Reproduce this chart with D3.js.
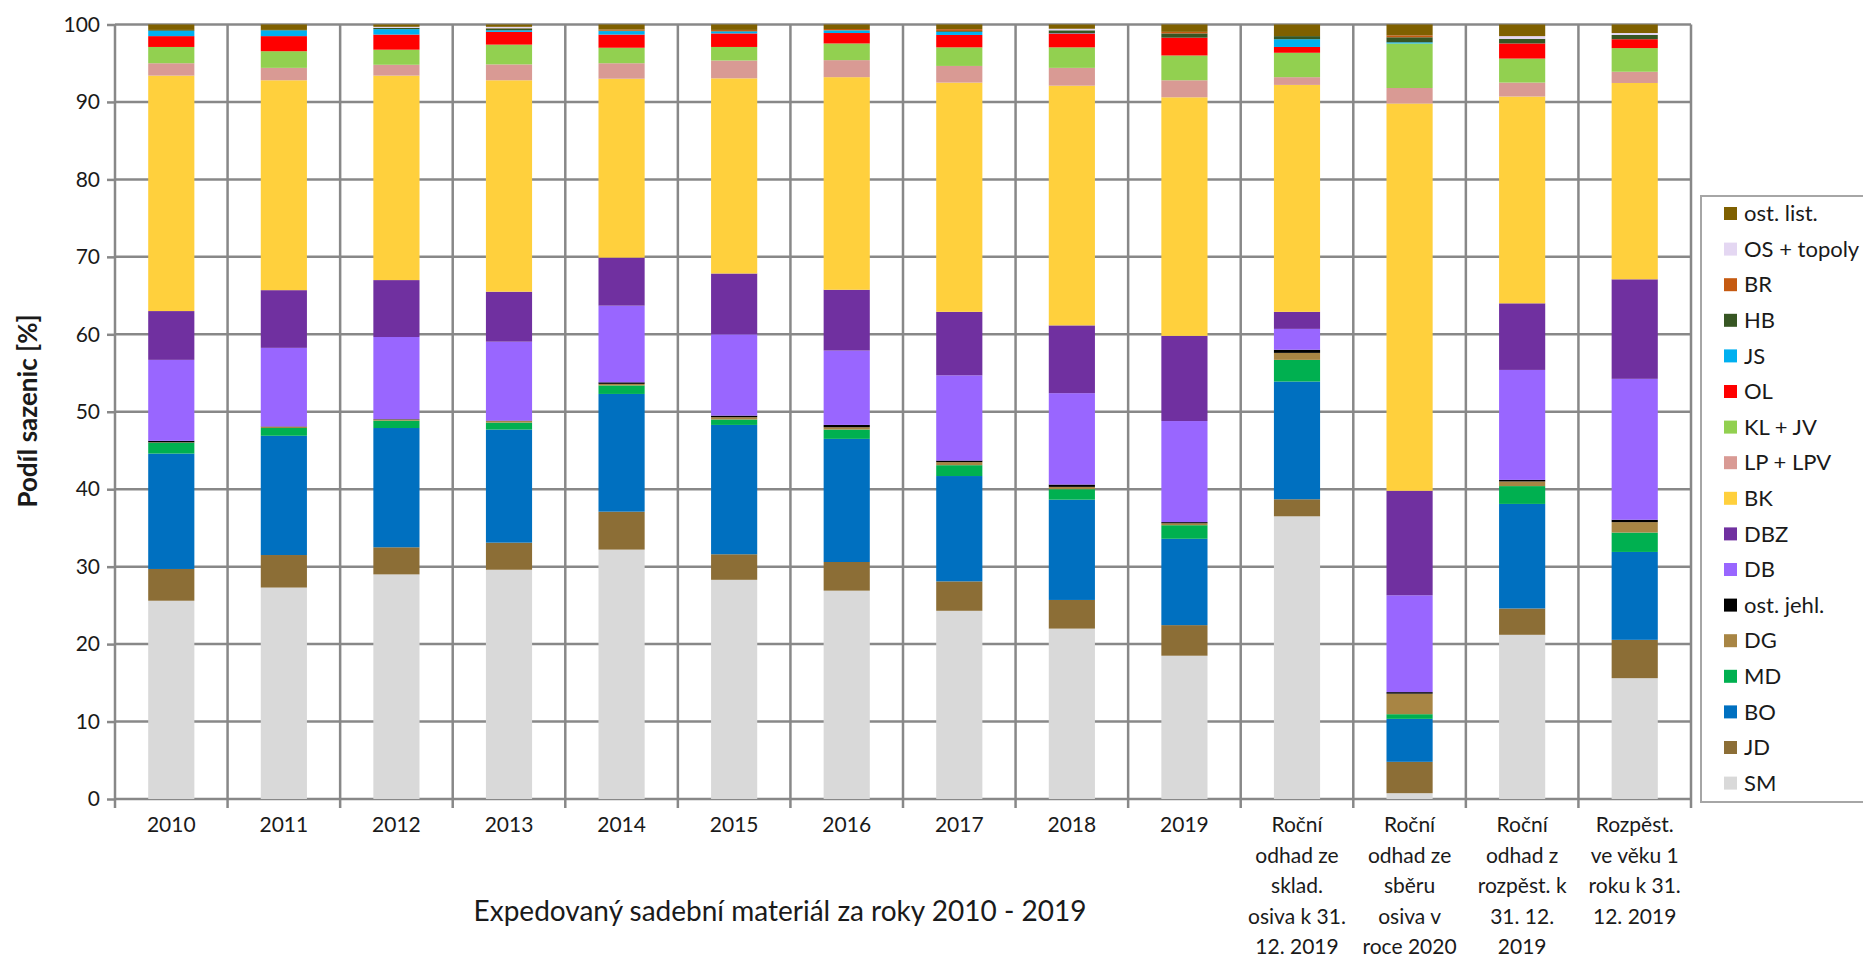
<!DOCTYPE html>
<html lang="cs">
<head>
<meta charset="utf-8">
<script src="https://cdn.jsdelivr.net/npm/d3@7"></script>
<style>
  html, body { margin: 0; padding: 0; background: #fff; }
  svg { display: block; font-family: Lato, "Open Sans", sans-serif; }
</style>
</head>
<body>
<svg id="chart" width="1863" height="961"></svg>
<script>
// Categories (multi-line axis labels)
const categories = [
  ["2010"], ["2011"], ["2012"], ["2013"], ["2014"], ["2015"], ["2016"],
  ["2017"], ["2018"], ["2019"],
  ["Roční", "odhad ze", "sklad.", "osiva k 31.", "12. 2019"],
  ["Roční", "odhad ze", "sběru", "osiva v", "roce 2020"],
  ["Roční", "odhad z", "rozpěst. k", "31. 12.", "2019"],
  ["Rozpěst.", "ve věku 1", "roku k 31.", "12. 2019"]
];

// Share of seedlings by tree species [%], bottom to top of each stack
const SM      = [25.6, 27.3, 29.0, 29.6, 32.2, 28.3, 26.9, 24.3, 22.0, 18.5, 36.5, 0.75, 21.2, 15.6];
const JD      = [4.1, 4.2, 3.5, 3.5, 4.9, 3.3, 3.7, 3.8, 3.7, 3.95, 2.2, 4.05, 3.4, 4.95];
const BO      = [14.9, 15.4, 15.4, 14.6, 15.2, 16.7, 15.9, 13.6, 12.95, 11.15, 15.2, 5.55, 13.5, 11.35];
const MD      = [1.4, 1.0, 0.95, 0.9, 1.1, 0.7, 1.2, 1.4, 1.35, 1.75, 2.8, 0.6, 2.3, 2.5];
const DG      = [0.05, 0.15, 0.15, 0.2, 0.2, 0.3, 0.3, 0.4, 0.3, 0.25, 0.9, 2.65, 0.6, 1.35];
const ostJehl = [0.2, 0.05, 0.05, 0.05, 0.2, 0.2, 0.3, 0.2, 0.3, 0.15, 0.4, 0.2, 0.2, 0.3];
const DB      = [10.45, 10.15, 10.6, 10.2, 9.9, 10.5, 9.6, 11.0, 11.8, 13.05, 2.7, 12.5, 14.2, 18.2];
const DBZ     = [6.3, 7.45, 7.35, 6.45, 6.2, 7.85, 7.85, 8.2, 8.75, 11.0, 2.2, 13.5, 8.6, 12.85];
const BK      = [30.4, 27.1, 26.4, 27.3, 23.1, 25.2, 27.45, 29.6, 30.95, 30.8, 29.3, 50.0, 26.7, 25.35];
const LP      = [1.6, 1.6, 1.4, 2.05, 2.0, 2.3, 2.2, 2.15, 2.3, 2.2, 1.0, 2.0, 1.8, 1.45];
const KL      = [2.1, 2.15, 1.95, 2.55, 2.0, 1.75, 2.15, 2.4, 2.65, 3.2, 3.15, 5.75, 3.1, 3.05];
const OL      = [1.4, 1.95, 1.95, 1.65, 1.7, 1.75, 1.35, 1.6, 1.8, 2.3, 0.75, 0, 1.95, 1.15];
const JS      = [0.7, 0.75, 0.7, 0.2, 0.45, 0.25, 0.35, 0.4, 0.05, 0, 1.0, 0.15, 0, 0];
const HB      = [0.1, 0.05, 0.17, 0.25, 0.05, 0.05, 0, 0.1, 0.35, 0.55, 0.4, 0.65, 0.6, 0.55];
const BR      = [0, 0, 0, 0.03, 0.15, 0.15, 0.17, 0.25, 0, 0.2, 0, 0.25, 0, 0];
const OS      = [0, 0, 0.13, 0.17, 0, 0, 0, 0, 0.2, 0, 0, 0, 0.35, 0.25];
const ostList = [0.7, 0.7, 0.3, 0.3, 0.65, 0.7, 0.58, 0.6, 0.55, 0.95, 1.5, 1.4, 1.5, 1.1];

const yTicks = [0, 10, 20, 30, 40, 50, 60, 70, 80, 90, 100];

// Series definitions in stacking order
const series = [
  { name: "SM",          values: SM,      color: "#D9D9D9" },
  { name: "JD",          values: JD,      color: "#8C6E36" },
  { name: "BO",          values: BO,      color: "#0070C0" },
  { name: "MD",          values: MD,      color: "#00B050" },
  { name: "DG",          values: DG,      color: "#A88544" },
  { name: "ost. jehl.",  values: ostJehl, color: "#000000" },
  { name: "DB",          values: DB,      color: "#9966FF" },
  { name: "DBZ",         values: DBZ,     color: "#7030A0" },
  { name: "BK",          values: BK,      color: "#FFD03D" },
  { name: "LP + LPV",    values: LP,      color: "#D99A94" },
  { name: "KL + JV",     values: KL,      color: "#92D050" },
  { name: "OL",          values: OL,      color: "#FF0000" },
  { name: "JS",          values: JS,      color: "#00B0F0" },
  { name: "HB",          values: HB,      color: "#375623" },
  { name: "BR",          values: BR,      color: "#C55A11" },
  { name: "OS + topoly", values: OS,      color: "#E4D7F2" },
  { name: "ost. list.",  values: ostList, color: "#7F6000" }
];

// Row table for d3.stack
const keys = series.map(s => s.name);
const rows = categories.map((c, i) => {
  const r = { idx: i };
  series.forEach(s => { r[s.name] = s.values[i]; });
  return r;
});
const stacked = d3.stack().keys(keys)(rows);

const svg = d3.select("#chart");
const plot = { left: 115, top: 24.5, right: 1691, bottom: 799 };

const x = d3.scaleBand()
  .domain(d3.range(categories.length))
  .range([plot.left, plot.right])
  .paddingInner(0.59)
  .paddingOuter(0.295);

const y = d3.scaleLinear().domain([0, 100]).range([plot.bottom, plot.top]);

const gridColor = "#888888";
const textColor = "#1a1a1a";
const halfGap = x.step() * x.paddingInner() / 2;
const boundaries = d3.range(categories.length).map(i => x(i) - halfGap).concat([plot.right]);

// Horizontal gridlines + y ticks
const yAxis = d3.axisLeft(y).tickValues(yTicks).tickSize(8).tickPadding(7).tickFormat(d3.format("d"));
const gy = svg.append("g").attr("transform", `translate(${plot.left},0)`).call(yAxis);
gy.select(".domain").remove();
gy.selectAll(".tick line").attr("stroke", gridColor).attr("stroke-width", 2.5);
gy.selectAll(".tick text")
  .attr("font-family", "Lato, sans-serif").attr("font-size", 21).attr("fill", textColor);

svg.append("g").selectAll("line").data(yTicks).join("line")
  .attr("x1", plot.left).attr("x2", plot.right)
  .attr("y1", d => y(d)).attr("y2", d => y(d))
  .attr("stroke", gridColor).attr("stroke-width", 2.5);

// Vertical gridlines at category boundaries, with ticks below the axis
svg.append("g").selectAll("line").data(boundaries).join("line")
  .attr("x1", d => d).attr("x2", d => d)
  .attr("y1", plot.top).attr("y2", plot.bottom + 9)
  .attr("stroke", gridColor).attr("stroke-width", 2.5);

// Stacked bars
svg.append("g").selectAll("g").data(stacked).join("g")
  .attr("fill", (d, i) => series[i].color)
  .selectAll("rect").data(d => d).join("rect")
  .attr("x", d => x(d.data.idx))
  .attr("width", x.bandwidth())
  .attr("y", d => y(d[1]))
  .attr("height", d => Math.max(0, y(d[0]) - y(d[1])));

// Category labels
const catG = svg.append("g")
  .attr("font-family", "Lato, sans-serif").attr("font-size", 21).attr("fill", textColor)
  .attr("text-anchor", "middle");
catG.selectAll("text").data(categories).join("text")
  .attr("x", (d, i) => x(i) + x.bandwidth() / 2)
  .attr("y", 832)
  .selectAll("tspan").data(d => d).join("tspan")
  .attr("x", function () { return d3.select(this.parentNode).attr("x"); })
  .attr("dy", (d, j) => j === 0 ? 0 : 30.5)
  .text(d => d);

// Axis titles
svg.append("text")
  .attr("transform", "translate(37,411) rotate(-90)")
  .attr("text-anchor", "middle")
  .attr("font-family", "Lato, sans-serif").attr("font-size", 26).attr("font-weight", "bold")
  .attr("fill", textColor)
  .text("Podíl sazenic [%]");

svg.append("text")
  .attr("x", 780).attr("y", 921)
  .attr("text-anchor", "middle")
  .attr("font-family", "Lato, sans-serif").attr("font-size", 28)
  .attr("fill", textColor)
  .text("Expedovaný sadební materiál za roky 2010 - 2019");

// Legend (top entry is the last stacked series)
const legend = svg.append("g");
legend.append("rect")
  .attr("x", 1701).attr("y", 196).attr("width", 175).attr("height", 606)
  .attr("fill", "#fff").attr("stroke", "#a6a6a6").attr("stroke-width", 2);
const legendItems = series.slice().reverse();
const li = legend.selectAll("g.item").data(legendItems).join("g")
  .attr("class", "item")
  .attr("transform", (d, i) => `translate(1724,${213.5 + i * 35.6})`);
li.append("rect").attr("x", 0).attr("y", -6.5).attr("width", 13).attr("height", 13)
  .attr("fill", d => d.color);
li.append("text").attr("x", 20).attr("y", 0).attr("dy", "0.35em")
  .attr("font-family", "Lato, sans-serif").attr("font-size", 22).attr("fill", textColor)
  .text(d => d.name);
</script>
</body>
</html>
